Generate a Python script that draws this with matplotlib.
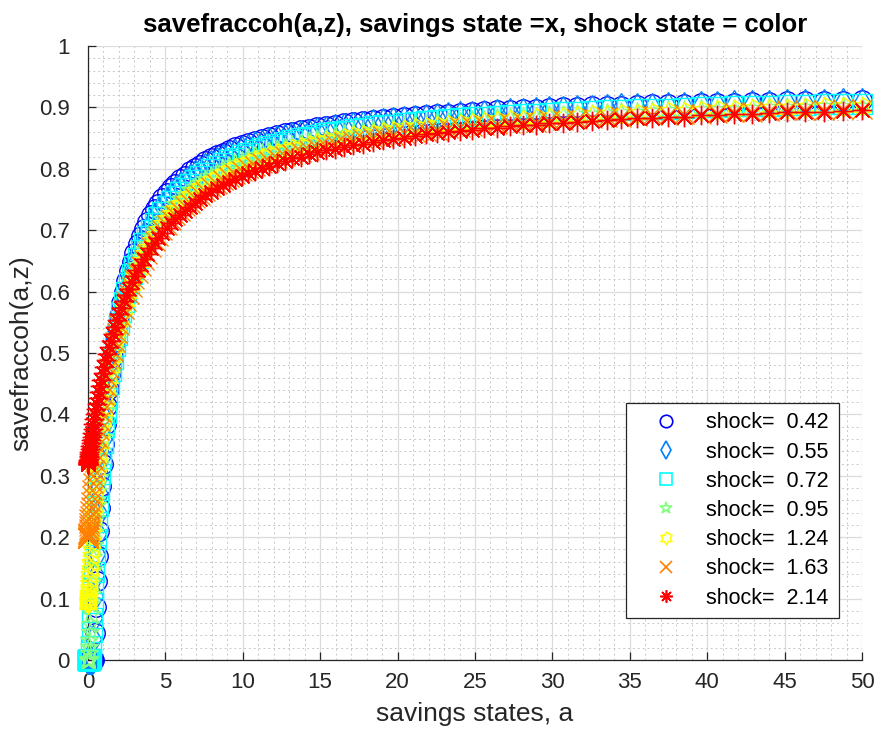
import numpy as np
import matplotlib
matplotlib.use("Agg")
import matplotlib.pyplot as plt
from matplotlib.path import Path
from matplotlib.lines import Line2D

plt.rcParams['font.family'] = ['Liberation Sans', 'DejaVu Sans']

# savings grid (x), dense near zero
a_grid = [0.0, 0.00003, 0.0002, 0.0008, 0.0019, 0.0036, 0.0063, 0.0099, 0.0148, 0.0211,
          0.0289, 0.0385, 0.05, 0.0636, 0.0794, 0.0977, 0.1185, 0.1422, 0.1688, 0.1985,
          0.2315, 0.268, 0.3081, 0.3521, 0.4, 0.4521, 0.5086, 0.5695, 0.6352, 0.7057,
          0.7813, 0.862, 0.9481, 1.0398, 1.1373, 1.2406, 1.35, 1.4657, 1.5877, 1.7164,
          1.8519, 1.9942, 2.1438, 2.3006, 2.4648, 2.6367, 2.8164, 3.0041, 3.2, 3.4042,
          3.6169, 3.8383, 4.0685, 4.3078, 4.5563, 4.8141, 5.0815, 5.3586, 5.6456, 5.9427,
          6.25, 6.5677, 6.8961, 7.2352, 7.5852, 7.9463, 8.3188, 8.7026, 9.0981, 9.5055,
          9.9248, 10.3562, 10.8, 11.2563, 11.7252, 12.207, 12.7019, 13.2099, 13.7313, 14.2662,
          14.8148, 15.3773, 15.9539, 16.5448, 17.15, 17.7698, 18.4044, 19.0539, 19.7185, 20.3984,
          21.0938, 21.8047, 22.5315, 23.2742, 24.0331, 24.8083, 25.6, 26.4084, 27.2336, 28.0758,
          28.9352, 29.8119, 30.7063, 31.6183, 32.5481, 33.4961, 34.4623, 35.4468, 36.45, 37.4719,
          38.5127, 39.5727, 40.6519, 41.7505, 42.8688, 44.0068, 45.1648, 46.343, 47.5414, 48.7604,
          50.0]

shock_vals = [0.42, 0.55, 0.72, 0.95, 1.24, 1.63, 2.14]

# savefraccoh(a, z) for each shock state
frac_042 = [0.0] * 25 + [
    0.044, 0.087, 0.129, 0.170, 0.210,
    0.248, 0.284, 0.319, 0.352, 0.384, 0.414, 0.442, 0.469, 0.494, 0.518,
    0.540, 0.561, 0.581, 0.600, 0.617, 0.634, 0.649, 0.663, 0.677, 0.690,
    0.702, 0.713, 0.724, 0.734, 0.743, 0.752, 0.760, 0.768, 0.776, 0.783,
    0.789, 0.796, 0.801, 0.807, 0.812, 0.817, 0.822, 0.826, 0.831, 0.835,
    0.839, 0.842, 0.846, 0.849, 0.852, 0.855, 0.858, 0.860, 0.863, 0.865,
    0.868, 0.870, 0.872, 0.874, 0.876, 0.878, 0.880, 0.881, 0.883, 0.885,
    0.886, 0.887, 0.889, 0.890, 0.891, 0.893, 0.894, 0.895, 0.896, 0.897,
    0.898, 0.899, 0.900, 0.901, 0.902, 0.902, 0.903, 0.904, 0.905, 0.905,
    0.906, 0.907, 0.907, 0.908, 0.909, 0.909, 0.910, 0.910, 0.911, 0.911,
    0.912]
frac_055 = [0.0] * 22 + [
    0.001, 0.035, 0.069, 0.104, 0.138, 0.172, 0.206, 0.239,
    0.271, 0.302, 0.332, 0.361, 0.389, 0.416, 0.441, 0.466, 0.489, 0.511,
    0.532, 0.552, 0.571, 0.589, 0.606, 0.622, 0.637, 0.651, 0.665, 0.677,
    0.689, 0.701, 0.711, 0.722, 0.731, 0.740, 0.749, 0.757, 0.765, 0.772,
    0.779, 0.785, 0.791, 0.797, 0.803, 0.808, 0.813, 0.818, 0.822, 0.826,
    0.830, 0.834, 0.838, 0.841, 0.845, 0.848, 0.851, 0.854, 0.856, 0.859,
    0.862, 0.864, 0.866, 0.868, 0.870, 0.872, 0.874, 0.876, 0.878, 0.880,
    0.881, 0.883, 0.884, 0.886, 0.887, 0.888, 0.890, 0.891, 0.892, 0.893,
    0.894, 0.895, 0.896, 0.897, 0.898, 0.899, 0.900, 0.901, 0.901, 0.902,
    0.903, 0.904, 0.904, 0.905, 0.906, 0.906, 0.907, 0.907, 0.908, 0.909,
    0.909]
frac_072 = [0.0] * 18 + [
    0.001, 0.023, 0.045, 0.069, 0.093, 0.118, 0.144, 0.171, 0.197, 0.224, 0.251, 0.277,
    0.303, 0.329, 0.354, 0.379, 0.403, 0.426, 0.449, 0.470, 0.491, 0.511,
    0.530, 0.549, 0.566, 0.583, 0.599, 0.614, 0.628, 0.642, 0.655, 0.668,
    0.679, 0.691, 0.701, 0.711, 0.721, 0.730, 0.739, 0.747, 0.755, 0.762,
    0.769, 0.776, 0.782, 0.788, 0.793, 0.799, 0.804, 0.809, 0.814, 0.818,
    0.822, 0.826, 0.830, 0.834, 0.837, 0.841, 0.844, 0.847, 0.850, 0.852,
    0.855, 0.858, 0.860, 0.862, 0.865, 0.867, 0.869, 0.871, 0.872, 0.874,
    0.876, 0.878, 0.879, 0.881, 0.882, 0.884, 0.885, 0.886, 0.887, 0.889,
    0.890, 0.891, 0.892, 0.893, 0.894, 0.895, 0.896, 0.897, 0.898, 0.898,
    0.899, 0.900, 0.901, 0.902, 0.902, 0.903, 0.904, 0.904, 0.905, 0.905,
    0.906]
frac_095 = [0.0] * 12 + [
    0.002, 0.011, 0.021, 0.033, 0.045, 0.059, 0.075, 0.091,
    0.108, 0.127, 0.146, 0.167, 0.187, 0.209, 0.231, 0.253, 0.275, 0.298,
    0.320, 0.342, 0.364, 0.386, 0.407, 0.428, 0.448, 0.468, 0.487, 0.505,
    0.523, 0.541, 0.557, 0.573, 0.588, 0.603, 0.617, 0.631, 0.643, 0.656,
    0.667, 0.678, 0.689, 0.699, 0.709, 0.718, 0.727, 0.735, 0.743, 0.751,
    0.758, 0.765, 0.771, 0.777, 0.783, 0.789, 0.794, 0.799, 0.804, 0.809,
    0.813, 0.818, 0.822, 0.825, 0.829, 0.833, 0.836, 0.839, 0.842, 0.845,
    0.848, 0.851, 0.853, 0.856, 0.858, 0.860, 0.863, 0.865, 0.867, 0.869,
    0.871, 0.872, 0.874, 0.876, 0.877, 0.879, 0.880, 0.882, 0.883, 0.884,
    0.885, 0.887, 0.888, 0.889, 0.890, 0.891, 0.892, 0.893, 0.894, 0.895,
    0.896, 0.897, 0.897, 0.898, 0.899, 0.900, 0.900, 0.901, 0.902, 0.902,
    0.903]
frac_124 = [
    0.092, 0.092, 0.092, 0.092, 0.093, 0.094, 0.095, 0.097, 0.099, 0.102,
    0.106, 0.110, 0.115, 0.122, 0.129, 0.137, 0.146, 0.156, 0.167, 0.178,
    0.191, 0.205, 0.219, 0.234, 0.250, 0.266, 0.283, 0.300, 0.318, 0.335,
    0.353, 0.371, 0.389, 0.407, 0.425, 0.443, 0.460, 0.477, 0.494, 0.510,
    0.526, 0.541, 0.556, 0.571, 0.585, 0.598, 0.611, 0.624, 0.636, 0.648,
    0.659, 0.670, 0.680, 0.690, 0.699, 0.708, 0.717, 0.725, 0.733, 0.741,
    0.748, 0.755, 0.762, 0.768, 0.774, 0.780, 0.785, 0.791, 0.796, 0.801,
    0.805, 0.810, 0.814, 0.818, 0.822, 0.825, 0.829, 0.832, 0.836, 0.839,
    0.842, 0.845, 0.847, 0.850, 0.853, 0.855, 0.857, 0.860, 0.862, 0.864,
    0.866, 0.868, 0.869, 0.871, 0.873, 0.875, 0.876, 0.878, 0.879, 0.880,
    0.882, 0.883, 0.884, 0.886, 0.887, 0.888, 0.889, 0.890, 0.891, 0.892,
    0.893, 0.894, 0.895, 0.896, 0.897, 0.897, 0.898, 0.899, 0.900, 0.900,
    0.901]
frac_163 = [
    0.198, 0.198, 0.198, 0.198, 0.198, 0.199, 0.200, 0.201, 0.203, 0.205,
    0.207, 0.210, 0.214, 0.218, 0.223, 0.229, 0.235, 0.242, 0.250, 0.258,
    0.267, 0.277, 0.288, 0.299, 0.310, 0.322, 0.335, 0.348, 0.362, 0.375,
    0.389, 0.404, 0.418, 0.432, 0.447, 0.461, 0.476, 0.490, 0.504, 0.518,
    0.532, 0.545, 0.559, 0.572, 0.584, 0.596, 0.608, 0.620, 0.631, 0.642,
    0.652, 0.662, 0.672, 0.682, 0.691, 0.700, 0.708, 0.716, 0.724, 0.731,
    0.739, 0.745, 0.752, 0.758, 0.764, 0.770, 0.776, 0.781, 0.786, 0.791,
    0.796, 0.801, 0.805, 0.809, 0.813, 0.817, 0.821, 0.824, 0.828, 0.831,
    0.834, 0.837, 0.840, 0.843, 0.846, 0.848, 0.851, 0.853, 0.855, 0.858,
    0.860, 0.862, 0.864, 0.866, 0.868, 0.869, 0.871, 0.873, 0.874, 0.876,
    0.877, 0.879, 0.880, 0.881, 0.883, 0.884, 0.885, 0.886, 0.887, 0.888,
    0.889, 0.890, 0.891, 0.892, 0.893, 0.894, 0.895, 0.896, 0.896, 0.897,
    0.898]
frac_214 = [
    0.320, 0.320, 0.320, 0.320, 0.320, 0.321, 0.321, 0.322, 0.323, 0.324,
    0.326, 0.328, 0.330, 0.333, 0.336, 0.339, 0.343, 0.348, 0.353, 0.358,
    0.364, 0.370, 0.377, 0.384, 0.392, 0.400, 0.408, 0.417, 0.427, 0.436,
    0.446, 0.456, 0.467, 0.477, 0.488, 0.498, 0.509, 0.520, 0.531, 0.542,
    0.553, 0.563, 0.574, 0.585, 0.595, 0.605, 0.615, 0.625, 0.635, 0.644,
    0.653, 0.662, 0.671, 0.679, 0.688, 0.696, 0.703, 0.711, 0.718, 0.725,
    0.732, 0.738, 0.745, 0.751, 0.757, 0.763, 0.768, 0.773, 0.778, 0.783,
    0.788, 0.793, 0.797, 0.801, 0.805, 0.809, 0.813, 0.817, 0.820, 0.824,
    0.827, 0.830, 0.833, 0.836, 0.839, 0.841, 0.844, 0.847, 0.849, 0.851,
    0.854, 0.856, 0.858, 0.860, 0.862, 0.864, 0.866, 0.867, 0.869, 0.871,
    0.872, 0.874, 0.875, 0.877, 0.878, 0.879, 0.881, 0.882, 0.883, 0.884,
    0.885, 0.887, 0.888, 0.889, 0.890, 0.891, 0.892, 0.892, 0.893, 0.894,
    0.895]

fracs = [frac_042, frac_055, frac_072, frac_095, frac_124, frac_163, frac_214]

# jet-like colours, one per shock state
colors = ['#0000ff', '#0080ff', '#00ffff', '#80ff80', '#ffff00', '#ff8000', '#ff0000']

# MATLAB style hexagram marker
ang = np.pi / 2 + np.arange(12) * np.pi / 6
rad = np.where(np.arange(12) % 2 == 0, 1.0, 0.577)
hexagram = Path(np.column_stack([rad * np.cos(ang), rad * np.sin(ang)]), closed=True)
markers = ['o', 'd', 's', '*', hexagram, 'x', (8, 2, 0)]

fig = plt.figure(figsize=(8.77, 7.33), dpi=100)
ax = fig.add_axes([0.1003, 0.0996, 0.8826, 0.8376])

for i in range(len(shock_vals)):
    ax.plot(a_grid, fracs[i], linestyle='none', marker=markers[i],
            markerfacecolor='none', markeredgecolor=colors[i],
            markersize=14, markeredgewidth=1.0, clip_on=False, zorder=3)

ax.set_xlim(0, 50)
ax.set_ylim(0, 1)
ax.set_xticks(np.arange(0, 51, 5))
ax.set_yticks(np.arange(0, 1.01, 0.1))
ax.set_yticklabels(['0', '0.1', '0.2', '0.3', '0.4', '0.5', '0.6', '0.7', '0.8', '0.9', '1'])
ax.set_xticks(np.arange(0, 51, 1), minor=True)
ax.set_yticks(np.arange(0, 1.001, 0.02), minor=True)

ax.set_axisbelow(True)
ax.grid(which='major', color='#dcdcdc', linewidth=0.9)
ax.grid(which='minor', color='#c8c8c8', linewidth=0.7, linestyle=(0, (2, 3)))

for s in ['top', 'right']:
    ax.spines[s].set_visible(False)
for s in ['left', 'bottom']:
    ax.spines[s].set_color('#262626')
    ax.spines[s].set_linewidth(0.9)

ax.tick_params(which='major', direction='in', length=6, width=0.9,
               colors='#262626', labelsize=16)
ax.tick_params(axis='x', which='major', pad=9)
ax.tick_params(axis='y', which='major', pad=13)
ax.tick_params(which='minor', length=0)

ax.set_xlabel('savings states, a', fontsize=19, color='#262626', labelpad=6)
ax.set_ylabel('savefraccoh(a,z)', fontsize=19, color='#262626', labelpad=4)
ax.set_title('savefraccoh(a,z), savings state =x, shock state = color',
             fontsize=18.5, fontweight='bold', pad=10)

handles = [Line2D([], [], linestyle='none', marker=markers[i], markerfacecolor='none',
                  markeredgecolor=colors[i], markersize=9, markeredgewidth=1.2)
           for i in range(len(shock_vals))]
labels = ['shock=  %.2f' % v for v in shock_vals]
leg = ax.legend(handles, labels, loc='lower right', bbox_to_anchor=(0.970, 0.068),
                fontsize=15.5, frameon=True, fancybox=False, edgecolor='#262626',
                framealpha=1, handlelength=2.8, handletextpad=0.5,
                labelspacing=0.38, borderpad=0.45, borderaxespad=0)
leg.get_frame().set_linewidth(0.9)

fig.savefig('out.png', dpi=100)
